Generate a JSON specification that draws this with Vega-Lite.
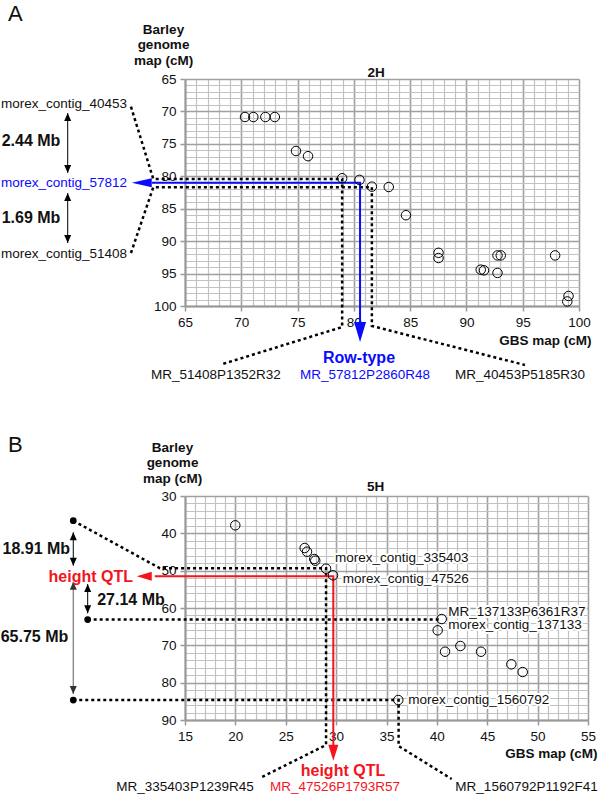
{
  "$schema": "https://vega.github.io/schema/vega-lite/v6.json",
  "autosize": {"type": "none"},
  "padding": {"left": 185, "top": 79, "right": 415, "bottom": 717},
  "config": {
    "font": "Liberation Sans",
    "view": {"stroke": null}
  },
  "datasets": {
    "pointsA": [
      {"x": 70.33, "y": 70.86}, {"x": 71.07, "y": 70.86}, {"x": 72.14, "y": 70.86}, {"x": 72.98, "y": 70.86},
      {"x": 74.86, "y": 76.1}, {"x": 75.93, "y": 76.9}, {"x": 78.96, "y": 80.3}, {"x": 80.5, "y": 80.55},
      {"x": 81.6, "y": 81.6}, {"x": 83.1, "y": 81.65}, {"x": 84.63, "y": 86.0}, {"x": 87.52, "y": 91.8},
      {"x": 87.52, "y": 92.6}, {"x": 91.27, "y": 94.4}, {"x": 91.56, "y": 94.5}, {"x": 92.76, "y": 92.2},
      {"x": 93.05, "y": 92.2}, {"x": 92.76, "y": 94.9}, {"x": 97.88, "y": 92.2}, {"x": 99.07, "y": 98.45},
      {"x": 98.96, "y": 99.3}
    ],
    "dotA": [
      {"path": 1, "seq": 0, "x": 60.2, "y": 69.27}, {"path": 1, "seq": 1, "x": 62.18, "y": 80.4},
      {"path": 1, "seq": 2, "x": 78.96, "y": 80.4}, {"path": 1, "seq": 3, "x": 78.96, "y": 103.24},
      {"path": 1, "seq": 4, "x": 68.26, "y": 108.99},
      {"path": 2, "seq": 0, "x": 60.2, "y": 91.83}, {"path": 2, "seq": 1, "x": 62.18, "y": 81.7},
      {"path": 2, "seq": 2, "x": 81.6, "y": 81.7}, {"path": 2, "seq": 3, "x": 81.6, "y": 103.08},
      {"path": 2, "seq": 4, "x": 95.2, "y": 109.1}
    ],
    "blueLineA": [
      {"seq": 0, "x": 62.07, "y": 80.99}, {"seq": 1, "x": 80.55, "y": 80.99}, {"seq": 2, "x": 80.55, "y": 103.0}
    ],
    "blueLeftTipA": [{"x": 60.27, "y": 80.99}],
    "blueDownTipA": [{"x": 80.55, "y": 105.55}],
    "mbLineA": [
      {"path": 1, "x": 54.58, "y": 70.24}, {"path": 1, "x": 54.58, "y": 79.49},
      {"path": 2, "x": 54.58, "y": 82.58}, {"path": 2, "x": 54.58, "y": 90.29}
    ],
    "upTipA": [{"x": 54.58, "y": 70.24}, {"x": 54.58, "y": 82.58}],
    "downTipA": [{"x": 54.58, "y": 79.49}, {"x": 54.58, "y": 90.29}],
    "leftTextA": [
      {"x": 48.65, "y": 68.9, "label": "morex_contig_40453"},
      {"x": 48.65, "y": 92.03, "label": "morex_contig_51408"}
    ],
    "leftBlueTextA": [{"x": 48.65, "y": 81.08, "label": "morex_contig_57812"}],
    "bottomTextA": [
      {"x": 67.75, "y": 110.64, "label": "MR_51408P1352R32"},
      {"x": 94.76, "y": 110.64, "label": "MR_40453P5185R30"}
    ],
    "bottomBlueTextA": [{"x": 80.99, "y": 110.64, "label": "MR_57812P2860R48"}],
    "mbTextA": [
      {"x": 51.32, "y": 74.56, "label": "2.44 Mb"},
      {"x": 51.32, "y": 86.43, "label": "1.69 Mb"}
    ],
    "rowTypeA": [{"x": 80.46, "y": 107.97, "label": "Row-type"}],
    "chromA": [{"x": 81.97, "y": 64.07, "label": "2H"}],
    "letterA": [{"x": 49.28, "y": 54.98, "label": "A"}],

    "pointsB": [
      {"x": 19.99, "y": 37.85}, {"x": 26.88, "y": 43.93}, {"x": 27.11, "y": 44.92}, {"x": 27.83, "y": 46.88},
      {"x": 27.93, "y": 47.33}, {"x": 29.0, "y": 49.47}, {"x": 29.69, "y": 51.24}, {"x": 40.48, "y": 62.95},
      {"x": 40.08, "y": 65.98}, {"x": 40.81, "y": 71.71}, {"x": 42.33, "y": 70.18}, {"x": 44.38, "y": 71.71},
      {"x": 47.39, "y": 75.08}, {"x": 48.52, "y": 77.15}, {"x": 36.17, "y": 84.65}
    ],
    "dotB": [
      {"path": 1, "seq": 0, "x": 3.91, "y": 36.62}, {"path": 1, "seq": 1, "x": 12.52, "y": 49.37},
      {"path": 1, "seq": 2, "x": 29.0, "y": 49.37}, {"path": 1, "seq": 3, "x": 29.0, "y": 96.7},
      {"path": 1, "seq": 4, "x": 22.64, "y": 105.27},
      {"path": 2, "seq": 0, "x": 5.34, "y": 63.1}, {"path": 2, "seq": 1, "x": 40.48, "y": 63.1},
      {"path": 3, "seq": 0, "x": 3.91, "y": 84.65}, {"path": 3, "seq": 1, "x": 36.2, "y": 84.65},
      {"path": 3, "seq": 2, "x": 36.2, "y": 96.97}, {"path": 3, "seq": 3, "x": 41.47, "y": 105.81}
    ],
    "redLineB": [
      {"seq": 0, "x": 12.0, "y": 51.51}, {"seq": 1, "x": 29.72, "y": 51.51}, {"seq": 2, "x": 29.72, "y": 97.0}
    ],
    "redLeftTipB": [{"x": 10.21, "y": 51.51}],
    "redDownTipB": [{"x": 29.72, "y": 100.91}],
    "mbLineB": [
      {"path": 1, "x": 3.91, "y": 39.72}, {"path": 1, "x": 3.91, "y": 48.67},
      {"path": 2, "x": 5.34, "y": 53.57}, {"path": 2, "x": 5.34, "y": 61.42}
    ],
    "grayLineB": [
      {"path": 1, "x": 3.91, "y": 52.96}, {"path": 1, "x": 3.91, "y": 83.04}
    ],
    "upTipB": [{"x": 3.91, "y": 39.72}, {"x": 5.34, "y": 53.57}],
    "downTipB": [{"x": 3.91, "y": 48.67}, {"x": 5.34, "y": 61.42}],
    "grayUpTipB": [{"x": 3.91, "y": 52.96}],
    "grayDownTipB": [{"x": 3.91, "y": 83.04}],
    "dotsB": [{"x": 3.91, "y": 36.62}, {"x": 5.34, "y": 63.1}, {"x": 3.91, "y": 84.65}],
    "mbTextB": [
      {"x": 0.24, "y": 44.2, "label": "18.91 Mb"},
      {"x": 9.64, "y": 57.86, "label": "27.14 Mb"},
      {"x": 0.06, "y": 67.85, "label": "65.75 Mb"}
    ],
    "qtlTextB": [
      {"x": 5.65, "y": 51.78, "label": "height QTL"},
      {"x": 30.68, "y": 103.67, "label": "height QTL"}
    ],
    "bottomTextB": [
      {"x": 15.0, "y": 107.95, "label": "MR_335403P1239R45"},
      {"x": 48.9, "y": 107.95, "label": "MR_1560792P1192F41"}
    ],
    "bottomRedTextB": [{"x": 29.89, "y": 107.95, "label": "MR_47526P1793R57"}],
    "plotTextB": [
      {"x": 29.89, "y": 46.61, "label": "morex_contig_335403"},
      {"x": 30.65, "y": 52.23, "label": "morex_contig_47526"},
      {"x": 41.13, "y": 60.99, "label": "MR_137133P6361R37"},
      {"x": 41.13, "y": 64.48, "label": "morex_contig_137133"},
      {"x": 37.16, "y": 84.65, "label": "morex_contig_1560792"}
    ],
    "chromB": [{"x": 33.93, "y": 27.67, "label": "5H"}],
    "letterB": [{"x": -2.57, "y": 16.34, "label": "B"}]
  },
  "vconcat": [
    {
      "width": 394,
      "height": 227,
      "encoding": {
        "x": {
          "field": "x", "type": "quantitative",
          "scale": {"domain": [65, 100], "nice": false, "zero": false},
          "axis": {
            "values": [65,66,67,68,69,70,71,72,73,74,75,76,77,78,79,80,81,82,83,84,85,86,87,88,89,90,91,92,93,94,95,96,97,98,99,100],
            "labelExpr": "datum.value % 5 === 0 ? datum.label : ''",
            "labelFlush": false, "labelOverlap": false,
            "labelFontSize": 13.5, "labelColor": "#111", "labelPadding": 4,
            "grid": true,
            "gridColor": {"condition": {"test": "datum.value % 5 === 0", "value": "#a0a0a0"}, "value": "#c2c2c2"},
            "gridWidth": {"condition": {"test": "datum.value % 5 === 0", "value": 1.6}, "value": 1.2},
            "tickOpacity": {"condition": {"test": "datum.value % 5 === 0", "value": 1}, "value": 0},
            "tickColor": "#999", "tickSize": 5, "tickWidth": 1.5,
            "domainColor": "#999", "domainWidth": 2,
            "title": "GBS map (cM)", "titleFontSize": 13.5, "titleFontWeight": "bold", "titleColor": "#111",
            "titleAnchor": "end", "titleAlign": "right", "titleBaseline": "middle", "titleX": 406, "titleY": 34
          }
        },
        "y": {
          "field": "y", "type": "quantitative",
          "scale": {"domain": [65, 100], "nice": false, "zero": false, "reverse": true},
          "axis": {
            "values": [65,66,67,68,69,70,71,72,73,74,75,76,77,78,79,80,81,82,83,84,85,86,87,88,89,90,91,92,93,94,95,96,97,98,99,100],
            "labelExpr": "datum.value % 5 === 0 ? datum.label : ''",
            "labelFlush": false, "labelOverlap": false,
            "labelFontSize": 13.5, "labelColor": "#111", "labelPadding": 4,
            "grid": true,
            "gridColor": {"condition": {"test": "datum.value % 5 === 0", "value": "#a0a0a0"}, "value": "#c2c2c2"},
            "gridWidth": {"condition": {"test": "datum.value % 5 === 0", "value": 1.6}, "value": 1.2},
            "tickOpacity": {"condition": {"test": "datum.value % 5 === 0", "value": 1}, "value": 0},
            "tickColor": "#999", "tickSize": 5, "tickWidth": 1.5,
            "domainColor": "#999", "domainWidth": 2,
            "title": ["Barley", "genome", "map (cM)"], "titleFontSize": 13.5, "titleFontWeight": "bold", "titleColor": "#111",
            "titleAngle": 0, "titleAlign": "center", "titleBaseline": "bottom", "titleLineHeight": 15.5,
            "titleX": -22, "titleY": -43
          }
        }
      },
      "layer": [
        {"data": {"name": "dotA"}, "mark": {"type": "line", "color": "#000", "strokeWidth": 2.5, "strokeDash": [3, 3]},
         "encoding": {"detail": {"field": "path"}, "order": {"field": "seq"}}},
        {"data": {"name": "blueLineA"}, "mark": {"type": "line", "color": "#0a0aff", "strokeWidth": 2},
         "encoding": {"order": {"field": "seq"}}},
        {"data": {"name": "mbLineA"}, "mark": {"type": "line", "color": "#000", "strokeWidth": 1},
         "encoding": {"detail": {"field": "path"}}},
        {"data": {"name": "upTipA"}, "mark": {"type": "point", "shape": "M0,0L-0.7,1.6L0.7,1.6Z", "filled": true, "color": "#000", "opacity": 1, "size": 100, "strokeWidth": 0}},
        {"data": {"name": "downTipA"}, "mark": {"type": "point", "shape": "M0,0L-0.7,-1.6L0.7,-1.6Z", "filled": true, "color": "#000", "opacity": 1, "size": 100, "strokeWidth": 0}},
        {"data": {"name": "blueLeftTipA"}, "mark": {"type": "point", "shape": "M0,0L2,-0.45L2,0.45Z", "filled": true, "color": "#0a0aff", "opacity": 1, "size": 400, "strokeWidth": 0}},
        {"data": {"name": "blueDownTipA"}, "mark": {"type": "point", "shape": "M0,0L-0.6,-2L0.6,-2Z", "filled": true, "color": "#0a0aff", "opacity": 1, "size": 400, "strokeWidth": 0}},
        {"data": {"name": "pointsA"}, "mark": {"type": "point", "shape": "circle", "filled": false, "color": "#000", "opacity": 1, "strokeWidth": 1, "size": 90}},
        {"data": {"name": "leftTextA"}, "mark": {"type": "text", "align": "left", "baseline": "middle", "fontSize": 13.5, "color": "#111"},
         "encoding": {"text": {"field": "label"}}},
        {"data": {"name": "leftBlueTextA"}, "mark": {"type": "text", "align": "left", "baseline": "middle", "fontSize": 13.5, "color": "#0a0aff"},
         "encoding": {"text": {"field": "label"}}},
        {"data": {"name": "bottomTextA"}, "mark": {"type": "text", "align": "center", "baseline": "middle", "fontSize": 13.5, "color": "#111"},
         "encoding": {"text": {"field": "label"}}},
        {"data": {"name": "bottomBlueTextA"}, "mark": {"type": "text", "align": "center", "baseline": "middle", "fontSize": 13.5, "color": "#0a0aff"},
         "encoding": {"text": {"field": "label"}}},
        {"data": {"name": "mbTextA"}, "mark": {"type": "text", "align": "center", "baseline": "middle", "fontSize": 16, "fontWeight": "bold", "color": "#111"},
         "encoding": {"text": {"field": "label"}}},
        {"data": {"name": "rowTypeA"}, "mark": {"type": "text", "align": "center", "baseline": "middle", "fontSize": 16, "fontWeight": "bold", "color": "#0a0aff"},
         "encoding": {"text": {"field": "label"}}},
        {"data": {"name": "chromA"}, "mark": {"type": "text", "align": "center", "baseline": "middle", "fontSize": 13.5, "fontWeight": "bold", "color": "#111"},
         "encoding": {"text": {"field": "label"}}},
        {"data": {"name": "letterA"}, "mark": {"type": "text", "align": "left", "baseline": "middle", "fontSize": 22, "color": "#111"},
         "encoding": {"text": {"field": "label"}}}
      ]
    },
    {
      "width": 403,
      "height": 224,
      "encoding": {
        "x": {
          "field": "x", "type": "quantitative",
          "scale": {"domain": [15, 55], "nice": false, "zero": false},
          "axis": {
            "values": [15,16,17,18,19,20,21,22,23,24,25,26,27,28,29,30,31,32,33,34,35,36,37,38,39,40,41,42,43,44,45,46,47,48,49,50,51,52,53,54,55],
            "labelExpr": "datum.value % 5 === 0 ? datum.label : ''",
            "labelFlush": false, "labelOverlap": false,
            "labelFontSize": 13.5, "labelColor": "#111", "labelPadding": 4,
            "grid": true,
            "gridColor": {"condition": {"test": "datum.value % 5 === 0", "value": "#a0a0a0"}, "value": "#c2c2c2"},
            "gridWidth": {"condition": {"test": "datum.value % 5 === 0", "value": 1.6}, "value": 1.2},
            "tickOpacity": {"condition": {"test": "datum.value % 5 === 0", "value": 1}, "value": 0},
            "tickColor": "#999", "tickSize": 5, "tickWidth": 1.5,
            "domainColor": "#999", "domainWidth": 2,
            "title": "GBS map (cM)", "titleFontSize": 13.5, "titleFontWeight": "bold", "titleColor": "#111",
            "titleAnchor": "end", "titleAlign": "right", "titleBaseline": "middle", "titleX": 412, "titleY": 33
          }
        },
        "y": {
          "field": "y", "type": "quantitative",
          "scale": {"domain": [30, 90], "nice": false, "zero": false, "reverse": true},
          "axis": {
            "values": [30,32,34,36,38,40,42,44,46,48,50,52,54,56,58,60,62,64,66,68,70,72,74,76,78,80,82,84,86,88,90],
            "labelExpr": "datum.value % 10 === 0 ? datum.label : ''",
            "labelFlush": false, "labelOverlap": false,
            "labelFontSize": 13.5, "labelColor": "#111", "labelPadding": 4,
            "grid": true,
            "gridColor": {"condition": {"test": "datum.value % 10 === 0", "value": "#a0a0a0"}, "value": "#c2c2c2"},
            "gridWidth": {"condition": {"test": "datum.value % 10 === 0", "value": 1.6}, "value": 1.2},
            "tickOpacity": {"condition": {"test": "datum.value % 10 === 0", "value": 1}, "value": 0},
            "tickColor": "#999", "tickSize": 5, "tickWidth": 1.5,
            "domainColor": "#999", "domainWidth": 2,
            "title": ["Barley", "genome", "map (cM)"], "titleFontSize": 13.5, "titleFontWeight": "bold", "titleColor": "#111",
            "titleAngle": 0, "titleAlign": "center", "titleBaseline": "bottom", "titleLineHeight": 15.5,
            "titleX": -13, "titleY": -42
          }
        }
      },
      "layer": [
        {"data": {"name": "dotB"}, "mark": {"type": "line", "color": "#000", "strokeWidth": 2.5, "strokeDash": [3, 3]},
         "encoding": {"detail": {"field": "path"}, "order": {"field": "seq"}}},
        {"data": {"name": "redLineB"}, "mark": {"type": "line", "color": "#f5141e", "strokeWidth": 2},
         "encoding": {"order": {"field": "seq"}}},
        {"data": {"name": "mbLineB"}, "mark": {"type": "line", "color": "#000", "strokeWidth": 1},
         "encoding": {"detail": {"field": "path"}}},
        {"data": {"name": "grayLineB"}, "mark": {"type": "line", "color": "#777", "strokeWidth": 1.2},
         "encoding": {"detail": {"field": "path"}}},
        {"data": {"name": "upTipB"}, "mark": {"type": "point", "shape": "M0,0L-0.7,1.6L0.7,1.6Z", "filled": true, "color": "#000", "opacity": 1, "size": 100, "strokeWidth": 0}},
        {"data": {"name": "downTipB"}, "mark": {"type": "point", "shape": "M0,0L-0.7,-1.6L0.7,-1.6Z", "filled": true, "color": "#000", "opacity": 1, "size": 100, "strokeWidth": 0}},
        {"data": {"name": "grayUpTipB"}, "mark": {"type": "point", "shape": "M0,0L-0.7,1.6L0.7,1.6Z", "filled": true, "color": "#333", "opacity": 1, "size": 100, "strokeWidth": 0}},
        {"data": {"name": "grayDownTipB"}, "mark": {"type": "point", "shape": "M0,0L-0.7,-1.6L0.7,-1.6Z", "filled": true, "color": "#333", "opacity": 1, "size": 100, "strokeWidth": 0}},
        {"data": {"name": "dotsB"}, "mark": {"type": "point", "shape": "circle", "filled": true, "color": "#000", "opacity": 1, "size": 45, "strokeWidth": 0}},
        {"data": {"name": "redLeftTipB"}, "mark": {"type": "point", "shape": "M0,0L1.5,-0.45L1.5,0.45Z", "filled": true, "color": "#f5141e", "opacity": 1, "size": 400, "strokeWidth": 0}},
        {"data": {"name": "redDownTipB"}, "mark": {"type": "point", "shape": "M0,0L-0.5,-1.6L0.5,-1.6Z", "filled": true, "color": "#f5141e", "opacity": 1, "size": 400, "strokeWidth": 0}},
        {"data": {"name": "pointsB"}, "mark": {"type": "point", "shape": "circle", "filled": false, "color": "#000", "opacity": 1, "strokeWidth": 1, "size": 90}},
        {"data": {"name": "plotTextB"}, "mark": {"type": "text", "align": "left", "baseline": "middle", "fontSize": 13.5, "color": "#fff", "stroke": "#fff", "strokeWidth": 4, "strokeJoin": "round"},
         "encoding": {"text": {"field": "label"}}},
        {"data": {"name": "plotTextB"}, "mark": {"type": "text", "align": "left", "baseline": "middle", "fontSize": 13.5, "color": "#111"},
         "encoding": {"text": {"field": "label"}}},
        {"data": {"name": "mbTextB"}, "mark": {"type": "text", "align": "center", "baseline": "middle", "fontSize": 16, "fontWeight": "bold", "color": "#111"},
         "encoding": {"text": {"field": "label"}}},
        {"data": {"name": "qtlTextB"}, "mark": {"type": "text", "align": "center", "baseline": "middle", "fontSize": 16, "fontWeight": "bold", "color": "#f5141e"},
         "encoding": {"text": {"field": "label"}}},
        {"data": {"name": "bottomTextB"}, "mark": {"type": "text", "align": "center", "baseline": "middle", "fontSize": 13.5, "color": "#111"},
         "encoding": {"text": {"field": "label"}}},
        {"data": {"name": "bottomRedTextB"}, "mark": {"type": "text", "align": "center", "baseline": "middle", "fontSize": 13.5, "color": "#f5141e"},
         "encoding": {"text": {"field": "label"}}},
        {"data": {"name": "chromB"}, "mark": {"type": "text", "align": "center", "baseline": "middle", "fontSize": 13.5, "fontWeight": "bold", "color": "#111"},
         "encoding": {"text": {"field": "label"}}},
        {"data": {"name": "letterB"}, "mark": {"type": "text", "align": "left", "baseline": "middle", "fontSize": 22, "color": "#111"},
         "encoding": {"text": {"field": "label"}}}
      ]
    }
  ],
  "bounds": "flush",
  "spacing": 190
}
